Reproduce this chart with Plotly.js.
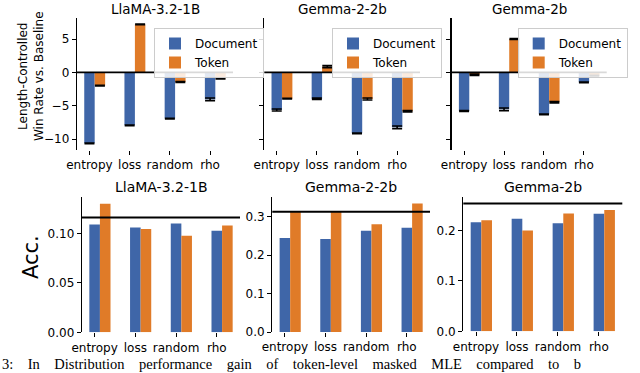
<!DOCTYPE html>
<html>
<head>
<meta charset="utf-8">
<script src="https://cdn.plot.ly/plotly-3.0.1.min.js"></script>
<style>
  html, body { margin: 0; padding: 0; background: #fff; }
  #myPlot { width: 640px; height: 373px; }
</style>
</head>
<body>
<div id="myPlot"></div>
<script>
//Categories and model names
var methods = ['entropy', 'loss', 'random', 'rho']
var models = ['LlaMA-3.2-1B', 'Gemma-2-2b', 'Gemma-2b']

//Length-controlled win rate vs. baseline (top row)
  // LlaMA-3.2-1B
  var wrDocLlama = [-10.65, -7.95, -6.95, -4.05]
  var wrTokLlama = [-2.0, 7.2, -1.45, -0.9]
  var wrDocLlamaErr = [0.05, 0.05, 0.05, 0.2]
  var wrTokLlamaErr = [0.05, 0.05, 0.08, 0.08]
  // Gemma-2-2b
  var wrDocG22 = [-5.65, -3.95, -9.15, -8.25]
  var wrTokG22 = [-3.95, 0.85, -4.0, -5.85]
  var wrDocG22Err = [0.15, 0.1, 0.05, 0.2]
  var wrTokG22Err = [0.05, 0.15, 0.15, 0.1]
  // Gemma-2b
  var wrDocG2 = [-5.8, -5.55, -6.3, -1.5]
  var wrTokG2 = [-0.35, 5.0, -4.5, -0.5]
  var wrDocG2Err = [0.05, 0.2, 0.05, 0.05]
  var wrTokG2Err = [0.1, 0.05, 0.1, 0.05]

//Accuracy (bottom row)
  var accDocLlama = [0.109, 0.106, 0.1098, 0.1026]
  var accTokLlama = [0.130, 0.1044, 0.0976, 0.108]
  var accDocG22 = [0.244, 0.2416, 0.263, 0.271]
  var accTokG22 = [0.312, 0.312, 0.2797, 0.334]
  var accDocG2 = [0.2166, 0.2232, 0.2146, 0.2331]
  var accTokG2 = [0.2205, 0.2, 0.2338, 0.241]
  //Baseline accuracy per model (black line)
  var accBaseline = [0.116, 0.3122, 0.2537]

var docColor = '#3f66a8'
var tokColor = '#e07b28'
var font = 'DejaVu Sans'
var W = 640
var H = 373

//pixel helpers for paper coordinates
function px(x){ return x / W }
function py(y){ return 1 - y / H }

function barTrace(xa, ya, y, err, name, color, offset, legendId, show) {
  var t = {
    type: 'bar', x: methods, y: y, name: name,
    xaxis: xa, yaxis: ya,
    offset: offset, width: 0.26,
    marker: {color: color, line: {width: 0}},
    showlegend: show
  }
  if (err) {
    t.error_y = {type: 'data', array: err, color: 'black', thickness: 1.6, width: 5}
  }
  if (legendId) t.legend = legendId
  return t
}

var data = [
  //Top row
  barTrace('x', 'y', wrDocLlama, wrDocLlamaErr, 'Document', docColor, -0.13, 'legend', true),
  barTrace('x', 'y', wrTokLlama, wrTokLlamaErr, 'Token', tokColor, 0.13, 'legend', true),
  barTrace('x2', 'y2', wrDocG22, wrDocG22Err, 'Document', docColor, -0.13, 'legend2', true),
  barTrace('x2', 'y2', wrTokG22, wrTokG22Err, 'Token', tokColor, 0.13, 'legend2', true),
  barTrace('x3', 'y3', wrDocG2, wrDocG2Err, 'Document', docColor, -0.13, 'legend3', true),
  barTrace('x3', 'y3', wrTokG2, wrTokG2Err, 'Token', tokColor, 0.13, 'legend3', true),
  //Bottom row
  barTrace('x4', 'y4', accDocLlama, null, 'Document', docColor, -0.13, null, false),
  barTrace('x4', 'y4', accTokLlama, null, 'Token', tokColor, 0.13, null, false),
  barTrace('x5', 'y5', accDocG22, null, 'Document', docColor, -0.13, null, false),
  barTrace('x5', 'y5', accTokG22, null, 'Token', tokColor, 0.13, null, false),
  barTrace('x6', 'y6', accDocG2, null, 'Document', docColor, -0.13, null, false),
  barTrace('x6', 'y6', accTokG2, null, 'Token', tokColor, 0.13, null, false)
]

function xAxis(x0, x1, yName) {
  return {
    domain: [px(x0), px(x1)], anchor: yName,
    type: 'category', categoryorder: 'array', categoryarray: methods,
    range: [-0.31, 3.57],
    showline: false, showgrid: false, zeroline: false,
    ticks: 'outside', ticklen: 4, tickwidth: 1, tickcolor: 'black',
    tickfont: {family: font, size: 12, color: 'black'}
  }
}

function yAxis(yTop, yBot, xName, range, extra) {
  var a = {
    domain: [py(yBot), py(yTop)], anchor: xName,
    range: range,
    showline: true, linecolor: 'black', linewidth: 1.3,
    showgrid: false, zeroline: false,
    ticks: 'outside', ticklen: 4, tickwidth: 1, tickcolor: 'black',
    tickfont: {family: font, size: 12, color: 'black'}
  }
  for (var k in extra) a[k] = extra[k]
  return a
}

function legendAt(x) {
  return {
    x: px(x), y: py(28), xanchor: 'left', yanchor: 'top',
    bgcolor: 'rgba(255,255,255,0.85)', bordercolor: '#cccccc', borderwidth: 1,
    font: {family: font, size: 12, color: 'black'},
    tracegroupgap: 0, itemwidth: 30
  }
}

var topTicks = {tickvals: [-10, -5, 0, 5], ticktext: ['\u221210', '\u22125', '0', '5']}
var topNoLabels = {tickvals: [-10, -5, 0, 5], showticklabels: false}

var layout = {
  width: W, height: H,
  margin: {l: 0, r: 0, t: 0, b: 0},
  paper_bgcolor: 'white', plot_bgcolor: 'white',
  barmode: 'overlay',
  font: {family: font, color: 'black'},

  xaxis: xAxis(77, 233, 'y'),
  xaxis2: xAxis(264.3, 420, 'y2'),
  xaxis3: xAxis(451.7, 606.7, 'y3'),
  xaxis4: xAxis(82, 240, 'y4'),
  xaxis5: xAxis(272.3, 430, 'y5'),
  xaxis6: xAxis(463.3, 622.3, 'y6'),

  yaxis: yAxis(18, 150, 'x', [-11.65, 8.15], topTicks),
  yaxis2: yAxis(18, 150, 'x2', [-11.65, 8.15], topNoLabels),
  yaxis3: yAxis(18, 150, 'x3', [-11.65, 8.15], topNoLabels),
  yaxis4: yAxis(196.7, 332.3, 'x4', [0, 0.137], {dtick: 0.05, tickformat: '.2f'}),
  yaxis5: yAxis(197.3, 332, 'x5', [0, 0.35], {dtick: 0.1, tickformat: '.1f'}),
  yaxis6: yAxis(197.3, 331.3, 'x6', [0, 0.266], {dtick: 0.1, tickformat: '.1f'}),

  legend: legendAt(154),
  legend2: legendAt(332),
  legend3: legendAt(517.7),

  shapes: [],
  annotations: []
}

//Zero lines on the top row
var topAxes = ['', '2', '3']
for (var i = 0; i < 3; i++) {
  layout.shapes.push({
    type: 'line', xref: 'x' + topAxes[i] + ' domain', yref: 'y' + topAxes[i],
    x0: 0, x1: 1, y0: 0, y1: 0,
    line: {color: 'black', width: 1.6}, layer: 'above'
  })
}
//Baseline accuracy lines on the bottom row
var botAxes = ['4', '5', '6']
for (var j = 0; j < 3; j++) {
  layout.shapes.push({
    type: 'line', xref: 'x' + botAxes[j] + ' domain', yref: 'y' + botAxes[j],
    x0: 0, x1: 1, y0: accBaseline[j], y1: accBaseline[j],
    line: {color: 'black', width: 2}, layer: 'above'
  })
}

//Subplot titles
var topCenters = [155, 342, 529]
var botCenters = [161, 351, 543]
for (var k = 0; k < 3; k++) {
  layout.annotations.push({
    text: models[k], xref: 'paper', yref: 'paper',
    x: px(topCenters[k]), y: py(9), xanchor: 'center', yanchor: 'middle',
    showarrow: false, font: {family: font, size: 13.5, color: 'black'}
  })
  layout.annotations.push({
    text: models[k], xref: 'paper', yref: 'paper',
    x: px(botCenters[k]), y: py(187), xanchor: 'center', yanchor: 'middle',
    showarrow: false, font: {family: font, size: 14, color: 'black'}
  })
}

//Y axis titles
layout.annotations.push({
  text: 'Length-Controlled<br>Win Rate vs. Baseline', xref: 'paper', yref: 'paper',
  x: px(31), y: py(76), xanchor: 'center', yanchor: 'middle', textangle: -90,
  showarrow: false, font: {family: font, size: 12, color: 'black'}
})
layout.annotations.push({
  text: 'Acc.', xref: 'paper', yref: 'paper',
  x: px(31), y: py(257), xanchor: 'center', yanchor: 'middle', textangle: -90,
  showarrow: false, font: {family: font, size: 21, color: 'black'}
})

//Caption fragment along the bottom edge
var gap = '\u00a0\u00a0\u00a0\u00a0'
var captionWords = ['3:', 'In', 'Distribution', 'performance', 'gain', 'of', 'token-level', 'masked', 'MLE', 'compared', 'to', 'b']
layout.annotations.push({
  text: captionWords.join(gap),
  xref: 'paper', yref: 'paper',
  x: px(1), y: 0, xanchor: 'left', yanchor: 'bottom', borderpad: 0,
  showarrow: false, font: {family: 'Liberation Serif', size: 14.5, color: 'black'}
})

Plotly.newPlot('myPlot', data, layout, {displayModeBar: false, staticPlot: true})
</script>
</body>
</html>
